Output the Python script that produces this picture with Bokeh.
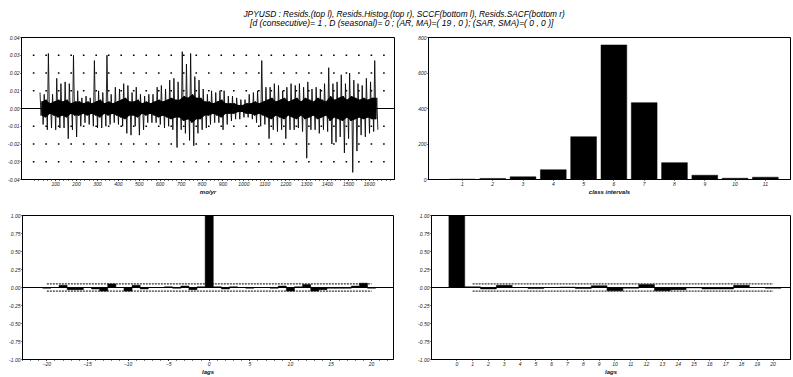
import numpy as np
from bokeh.plotting import figure
from bokeh.layouts import column, row
from bokeh.models import Range1d, FixedTicker, Span, Label, PrintfTickFormatter
from bokeh.embed import file_html
from bokeh.resources import INLINE

# ---------------- data ----------------
title_main = "JPYUSD : Resids.(top l), Resids.Histog.(top r), SCCF(bottom l), Resids.SACF(bottom r)"
title_sub = "[d (consecutive)= 1 , D (seasonal)= 0 ; (AR, MA)=( 19 , 0 ); (SAR, SMA)=( 0 , 0 )]"

# residual series, read as envelope per block of 20 observations (units of 0.001)
resid_first_obs = 23
resid_block = 20
resid_hi = [9, 8, 31, 8, 17, 14, 15, 14, 30, 10,
            6, 7, 6, 27, 10, 9, 30, 8, 12, 11,
            14, 13, 9, 12, 8, 7, 8, 8, 12, 13,
            11, 16, 17, 15, 32, 25, 31, 18, 16, 11,
            8, 10, 9, 10, 10, 7, 7, 6, 5, 5,
            8, 9, 10, 27, 12, 12, 14, 13, 10, 12,
            14, 13, 14, 12, 15, 11, 12, 11, 14, 23,
            14, 15, 19, 14, 20, 16, 14, 13, 17, 15,
            27]
resid_lo = [-9, -12, -11, -12, -11, -11, -17, -12, -16, -10,
            -8, -9, -10, -11, -11, -10, -9, -8, -9, -10,
            -14, -15, -10, -15, -12, -8, -8, -8, -9, -11,
            -10, -12, -22, -12, -14, -18, -21, -14, -12, -11,
            -9, -8, -8, -12, -9, -7, -6, -6, -5, -5,
            -6, -8, -10, -9, -17, -12, -13, -12, -17, -12,
            -12, -11, -13, -28, -12, -12, -14, -12, -13, -20,
            -19, -16, -25, -17, -36, -24, -15, -16, -14, -13,
            -12]
# typical (dense) amplitude inside each block, units of 0.001
resid_core = [4, 5, 3, 4, 5, 4, 5, 3, 4, 4,
              3, 4, 3, 4, 5, 3, 4, 3, 4, 5,
              6, 4, 4, 5, 3, 4, 3, 4, 5, 4,
              5, 6, 5, 5, 7, 6, 8, 6, 6, 4,
              4, 3, 4, 5, 3, 3, 3, 2, 2, 3,
              3, 4, 3, 4, 5, 6, 4, 5, 6, 4,
              5, 6, 4, 6, 5, 4, 6, 5, 4, 7,
              5, 6, 7, 5, 7, 6, 5, 6, 5, 6,
              6]
resid_xticks = [100, 200, 300, 400, 500, 600, 700, 800, 900, 1000,
                1100, 1200, 1300, 1400, 1500, 1600]
resid_yticks = [-0.04, -0.03, -0.02, -0.01, 0.0, 0.01, 0.02, 0.03, 0.04]
resid_dot_levels = [-0.03, -0.02, -0.01, 0.01, 0.02, 0.03]

hist_class = [1, 2, 3, 4, 5, 6, 7, 8, 9, 10, 11]
hist_count = [2, 6, 15, 55, 241, 758, 433, 95, 24, 7, 13]
hist_yticks = [0, 200, 400, 600, 800]

sccf_lags = list(range(-20, 21))
sccf_vals = [-0.01, 0.00, 0.03, -0.03, -0.03, 0.00, -0.02, -0.05, 0.05, 0.00,
             -0.05, 0.03, -0.02, 0.00, 0.00, 0.01, -0.01, 0.02, -0.03, 0.01,
             1.00,
             0.01, -0.02, 0.01, 0.00, -0.01, 0.00, 0.00, -0.01, 0.02, -0.05,
             0.01, 0.04, -0.05, -0.03, -0.01, -0.01, -0.01, 0.02, 0.06, -0.01]
sccf_xticks = [-20, -15, -10, -5, 0, 5, 10, 15, 20]

sacf_lags = list(range(0, 21))
sacf_vals = [1.00, 0.01, -0.02, 0.03, 0.00, -0.015, 0.00, 0.005, -0.015, 0.025,
             -0.045, -0.01, 0.04, -0.045, -0.03, -0.005, -0.02, -0.02, 0.03, 0.00,
             -0.01]
cf_yticks = [-1.0, -0.75, -0.5, -0.25, 0.0, 0.25, 0.5, 0.75, 1.0]
conf_band = 0.05

# ---------------- styling helpers ----------------
FONT = "Liberation Sans"


def style(p):
    p.toolbar_location = None
    p.outline_line_color = "black"
    p.outline_line_width = 1
    p.background_fill_color = "white"
    p.border_fill_color = "white"
    p.xgrid.visible = False
    p.ygrid.visible = False
    for ax in p.axis:
        ax.axis_line_color = "black"
        ax.major_label_text_font = FONT
        ax.major_label_text_font_style = "italic"
        ax.major_label_text_font_size = "5px"
        ax.major_label_text_color = "#222222"
        ax.major_tick_in = 0
        ax.major_tick_out = 1
        ax.minor_tick_in = 0
        ax.minor_tick_out = 1
        ax.major_label_standoff = 1
        ax.axis_label_standoff = 0
        ax.axis_label_text_font = FONT
        ax.axis_label_text_font_style = "bold italic"
        ax.axis_label_text_font_size = "6px"
        ax.axis_label_text_color = "#111111"


def mk(w, h, xr, yr, bl, br, bt, bb):
    p = figure(width=w, height=h, x_range=xr, y_range=yr, output_backend="svg",
               toolbar_location=None, min_border_left=bl, min_border_right=br,
               min_border_top=bt, min_border_bottom=bb)
    style(p)
    return p


# ---------------- title ----------------
pt = figure(width=793, height=30, x_range=Range1d(0, 1), y_range=Range1d(0, 1),
            output_backend="svg", toolbar_location=None, min_border=0)
pt.axis.visible = False
pt.xgrid.visible = False
pt.ygrid.visible = False
pt.outline_line_color = None
pt.add_layout(Label(x=0.509, y=0.54, text=title_main, text_align="center",
                    text_baseline="middle", text_font=FONT, text_font_style="italic",
                    text_font_size="8.3px", text_color="black"))
pt.add_layout(Label(x=0.506, y=0.26, text=title_sub, text_align="center",
                    text_baseline="middle", text_font=FONT, text_font_style="italic",
                    text_font_size="8.5px", text_color="black"))

# ---------------- top left: residuals ----------------
p1 = mk(410, 167, Range1d(-63, 1720), Range1d(-0.04, 0.04), 21, 16, 7, 14)
n_blocks = len(resid_hi)
starts = resid_first_obs + resid_block * np.arange(n_blocks)
hi = np.array(resid_hi) / 1000.0
lo = np.array(resid_lo) / 1000.0
core = np.array(resid_core) / 1000.0
zx = np.ravel(np.column_stack([starts + 2.5, starts + 7.5, starts + 12.5, starts + 17.5]))
zy = np.ravel(np.column_stack([hi, -core, core, lo]))
p1.add_layout(Span(location=0, dimension="width", line_color="black", line_width=1))
p1.varea(x=starts + resid_block / 2, y1=-core, y2=core, fill_color="black")
p1.line(zx, zy, line_color="black", line_width=0.85)
dot_x = np.arange(-5, 1700, 59.8)
gx, gy = np.meshgrid(dot_x, resid_dot_levels)
p1.scatter(gx.ravel(), gy.ravel(), marker="square", size=1.6, color="black", line_width=0)
p1.xaxis.ticker = FixedTicker(ticks=resid_xticks, minor_ticks=list(range(0, 1720, 20)))
p1.yaxis.ticker = FixedTicker(ticks=resid_yticks)
p1.yaxis.formatter = PrintfTickFormatter(format="%.2f")
p1.xaxis.axis_label = "mo/yr"

# ---------------- top right: histogram ----------------
p2 = mk(383, 167, Range1d(-0.12, 11.83), Range1d(0, 800), 18, 3, 7, 14)
p2.vbar(x=hist_class, top=hist_count, bottom=0, width=0.85, fill_color="black",
        line_color="black", line_width=0.5)
p2.xaxis.ticker = FixedTicker(ticks=hist_class)
p2.yaxis.ticker = FixedTicker(ticks=hist_yticks)
p2.xaxis.axis_label = "class intervals"

# ---------------- bottom left: SCCF ----------------
p3 = mk(410, 180, Range1d(-23, 22.7), Range1d(-1, 1), 22, 17, 18, 16)
p3.add_layout(Span(location=0, dimension="width", line_color="black", line_width=1))
p3.vbar(x=sccf_lags, top=sccf_vals, bottom=0, width=1.0, fill_color="black",
        line_color="black", line_width=0.5)
p3.line([sccf_lags[0], sccf_lags[-1]], [conf_band, conf_band], line_color="black",
        line_width=1, line_dash="2 1")
p3.line([sccf_lags[0], sccf_lags[-1]], [-conf_band, -conf_band], line_color="black",
        line_width=1, line_dash="2 1")
p3.xaxis.ticker = FixedTicker(ticks=sccf_xticks, minor_ticks=list(range(-23, 23)))
p3.yaxis.ticker = FixedTicker(ticks=cf_yticks)
p3.yaxis.formatter = PrintfTickFormatter(format="%.2f")
p3.xaxis.axis_label = "lags"

# ---------------- bottom right: SACF ----------------
p4 = mk(383, 180, Range1d(-1.6, 21.1), Range1d(-1, 1), 21, 3, 18, 16)
p4.add_layout(Span(location=0, dimension="width", line_color="black", line_width=1))
p4.vbar(x=sacf_lags, top=sacf_vals, bottom=0, width=1.0, fill_color="black",
        line_color="black", line_width=0.5)
p4.line([sacf_lags[1], sacf_lags[-1]], [conf_band, conf_band], line_color="black",
        line_width=1, line_dash="2 1")
p4.line([sacf_lags[1], sacf_lags[-1]], [-conf_band, -conf_band], line_color="black",
        line_width=1, line_dash="2 1")
p4.xaxis.ticker = FixedTicker(ticks=sacf_lags)
p4.yaxis.ticker = FixedTicker(ticks=cf_yticks)
p4.yaxis.formatter = PrintfTickFormatter(format="%.2f")
p4.xaxis.axis_label = "lags"

layout = column(pt, row(p1, p2), row(p3, p4))
open("out.html", "w").write(file_html(layout, INLINE))
